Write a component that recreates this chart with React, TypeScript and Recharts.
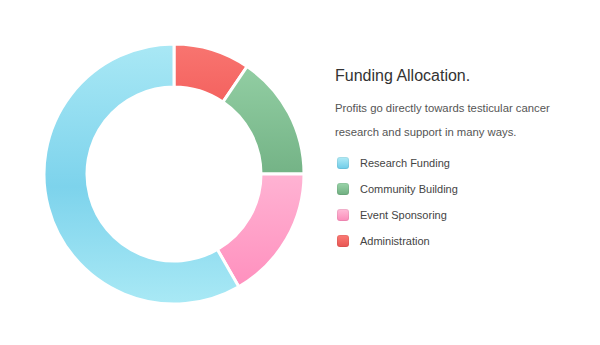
import React from 'react'
import { PieChart, Pie, Cell } from 'recharts'

// clockwise from 12 o'clock
const sliceNames = ['Administration', 'Community Building', 'Event Sponsoring', 'Research Funding']
const sliceValues = [9.5, 15.5, 16.7, 58.3]

const legendNames = ['Research Funding', 'Community Building', 'Event Sponsoring', 'Administration']

const title = 'Funding Allocation.'
const blurb = ['Profits go directly towards testicular cancer', 'research and support in many ways.']

const gradients: Record<string, [number, string][]> = {
  'Administration': [[0, '#f87570'], [1, '#f4625f']],
  'Community Building': [[0, '#92cea3'], [1, '#74b386']],
  'Event Sponsoring': [[0, '#ffb3d3'], [1, '#ff90be']],
  'Research Funding': [[0, '#a9e8f5'], [0.55, '#7dd3ec'], [1, '#a9e9f5']],
}

const legendGradients: Record<string, [string, string]> = {
  'Administration': ['#fb7a75', '#e85552'],
  'Community Building': ['#9ad4aa', '#6fae80'],
  'Event Sponsoring': ['#ffbcd8', '#fb8bb9'],
  'Research Funding': ['#b3ecf7', '#6ccbe8'],
}

const data = sliceNames.map((name, i) => ({ name, value: sliceValues[i] }))
const gid = (name: string) => 'g-' + name.replace(/\s+/g, '')

const font = '"Liberation Sans", Arial, sans-serif'

export default function App() {
  return (
    <div style={{ position: 'absolute', left: 0, top: 0, width: 600, height: 345, background: '#fff', fontFamily: font }}>
      <PieChart width={600} height={345} margin={{ top: 0, right: 0, bottom: 0, left: 0 }} style={{ position: 'absolute', left: 0, top: 0 }}>
        <defs>
          {sliceNames.map((name) => (
            <linearGradient key={name} id={gid(name)} x1="0" y1="0" x2="0" y2="1">
              {gradients[name].map(([o, c]) => (
                <stop key={o} offset={o} stopColor={c} />
              ))}
            </linearGradient>
          ))}
        </defs>
        <Pie
          data={data}
          dataKey="value"
          nameKey="name"
          cx={174}
          cy={174}
          innerRadius={87}
          outerRadius={130}
          startAngle={90}
          endAngle={-270}
          stroke="#fff"
          strokeWidth={3}
          isAnimationActive={false}
        >
          {data.map((d) => (
            <Cell key={d.name} fill={`url(#${gid(d.name)})`} />
          ))}
        </Pie>
      </PieChart>

      <div style={{ position: 'absolute', left: 335, top: 66, fontSize: 16, color: '#333', lineHeight: '20px' }}>
        {title}
      </div>
      <div style={{ position: 'absolute', left: 335, top: 96, fontSize: 11.3, color: '#555', lineHeight: '24px' }}>
        {blurb.map((l) => (
          <div key={l}>{l}</div>
        ))}
      </div>
      {legendNames.map((name, i) => (
        <div key={name} style={{ position: 'absolute', left: 337, top: 156 + i * 26, height: 14, display: 'flex', alignItems: 'center' }}>
          <span
            style={{
              display: 'inline-block',
              width: 12,
              height: 12,
              borderRadius: 3,
              background: `linear-gradient(${legendGradients[name][0]}, ${legendGradients[name][1]})`,
              boxShadow: 'inset 0 0 0 1px rgba(0,0,0,0.06)',
            }}
          />
          <span style={{ marginLeft: 11, fontSize: 11, color: '#444' }}>{name}</span>
        </div>
      ))}
    </div>
  )
}
